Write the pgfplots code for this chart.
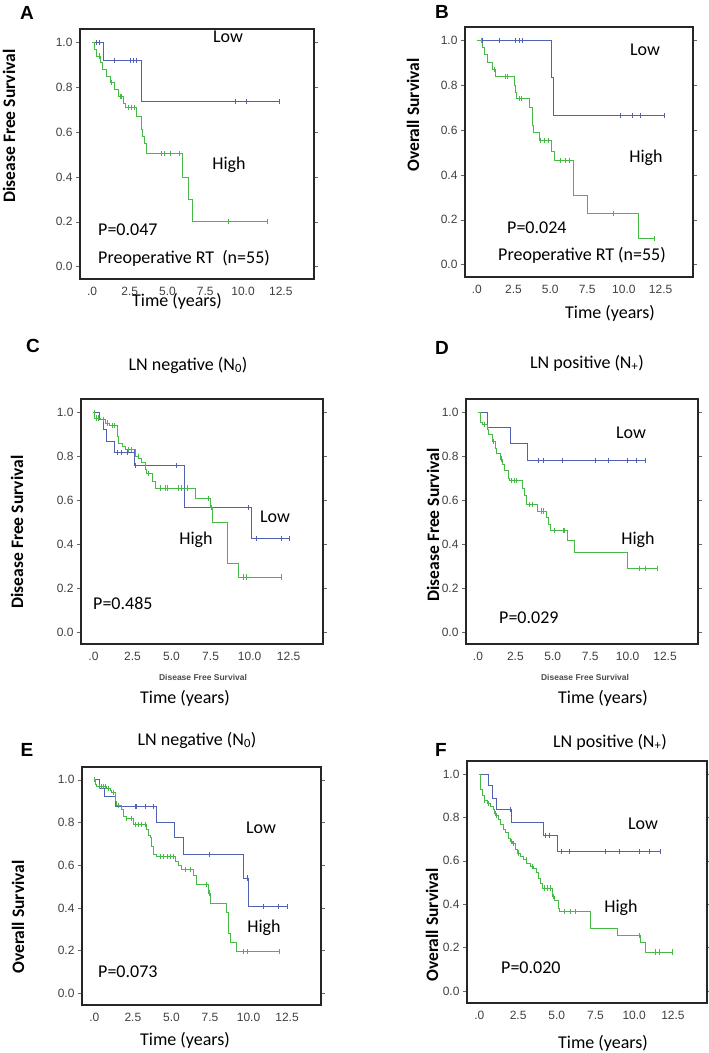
\documentclass[border=0pt]{standalone}
\usepackage{fontspec}
\setmainfont{Carlito}
\newfontfamily\arialfont{Liberation Sans}
\usepackage{pgfplots}
\pgfplotsset{compat=1.18}
\definecolor{kmblue}{RGB}{82,98,178}
\definecolor{kmgreen}{RGB}{70,186,70}
\newcommand\tickfont{\arialfont\fontsize{12bp}{14bp}\selectfont}
\newcommand\annfont{\fontsize{18bp}{21bp}\selectfont}
\newcommand\ylabfont{\bfseries\fontsize{17.5bp}{20bp}\selectfont}
\newcommand\letfont{\arialfont\bfseries\fontsize{19bp}{21bp}\selectfont}
\newcommand\smallfont{\arialfont\bfseries\fontsize{8.5bp}{10bp}\selectfont}
\pgfplotsset{km/.style={scale only axis, anchor=north west,
  xmin=-0.8, xmax=14.7, ymin=-0.055, ymax=1.06,
  axis line style={line width=1.5bp, black!85},
  xtick={0,2.5,5,7.5,10,12.5}, xticklabels={.0,2.5,5.0,7.5,10.0,12.5},
  ytick={0,0.2,0.4,0.6,0.8,1.0}, yticklabels={0.0,0.2,0.4,0.6,0.8,1.0},
  tick label style={font=\tickfont, text=black!75},
  tick align=outside, major tick length=4bp,
  xtick style={draw=none}, ytick style={black!60, line width=0.5bp},
  xticklabel style={yshift=-1bp},
  every axis plot/.append style={line width=0.8bp}},
  kmb/.style={const plot, kmblue, no marks},
  kmg/.style={const plot, kmgreen, no marks},
  cb/.style={only marks, mark=|, mark size=2.6bp, kmblue, mark options={line width=0.6bp}},
  cg/.style={only marks, mark=|, mark size=2.6bp, kmgreen, mark options={line width=0.6bp}}}
\begin{document}
\begin{tikzpicture}
\path[use as bounding box] (0,0) rectangle (709bp,-1053bp);
% ---------------- A
\begin{axis}[km, at={(80bp,-29bp)}, width=234bp, height=250bp]
\addplot[kmb] coordinates {(0,1) (0.75,0.92) (3.3,0.735) (12.4,0.735)};
\addplot[cb] coordinates {(0.3,1) (0.5,1) (1.5,0.92) (2.5,0.92) (2.75,0.92) (2.95,0.92) (9.5,0.735) (10.2,0.735) (12.4,0.735)};
\addplot[kmg] coordinates {(0,1) (0.15,0.97) (0.3,0.94) (0.55,0.91) (0.7,0.88) (0.95,0.85) (1.2,0.82) (1.5,0.79) (1.75,0.76) (2.05,0.73) (2.2,0.71) (2.95,0.67) (3.3,0.61) (3.35,0.58) (3.45,0.55) (3.6,0.505) (6.0,0.40) (6.4,0.30) (6.65,0.20) (11.6,0.20)};
\addplot[cg] coordinates {(0.5,0.94) (1.3,0.82) (1.85,0.76) (1.95,0.76) (2.4,0.71) (2.6,0.71) (2.8,0.71) (4.6,0.505) (4.8,0.505) (5.2,0.505) (5.8,0.505) (9.0,0.20) (11.6,0.20)};
\end{axis}
% ---------------- B
\begin{axis}[km, at={(465bp,-27bp)}, width=228bp, height=250bp]
\addplot[kmb] coordinates {(0,1) (5.05,0.834) (5.24,0.667) (12.75,0.667)};
\addplot[cb] coordinates {(0.35,1) (1.5,1) (2.65,1) (2.9,1) (3.1,1) (9.75,0.667) (10.55,0.667) (11.1,0.667) (12.75,0.667)};
\addplot[kmg] coordinates {(0,1) (0.4,0.97) (0.55,0.94) (0.7,0.90) (1.05,0.87) (1.3,0.84) (2.55,0.80) (2.65,0.77) (2.7,0.74) (3.6,0.70) (3.75,0.66) (3.8,0.62) (3.85,0.59) (4.25,0.555) (5.1,0.505) (5.25,0.465) (6.55,0.31) (7.55,0.23) (11.0,0.115) (12.05,0.115)};
\addplot[cg] coordinates {(0.3,1) (1.2,0.87) (1.95,0.84) (2.1,0.84) (2.9,0.74) (3.0,0.74) (4.35,0.555) (4.6,0.555) (4.85,0.555) (5.65,0.465) (6.0,0.465) (6.3,0.465) (9.3,0.23) (12.05,0.115)};
\end{axis}
% ---------------- C
\begin{axis}[km, at={(81bp,-399bp)}, width=242bp, height=245bp]
\addplot[kmb] coordinates {(0,1) (0.35,0.967) (0.65,0.92) (0.85,0.868) (1.35,0.815) (2.65,0.757) (5.8,0.565) (10.1,0.425) (12.55,0.425)};
\addplot[cb] coordinates {(1.5,0.815) (1.8,0.815) (2.15,0.815) (2.6,0.815) (2.7,0.757) (5.3,0.757) (9.9,0.565) (10.4,0.425) (12.0,0.425) (12.55,0.425)};
\addplot[kmg] coordinates {(0,1) (0.08,0.974) (0.45,0.967) (0.75,0.951) (1.05,0.939) (1.5,0.89) (1.6,0.86) (1.85,0.845) (2.05,0.83) (2.7,0.80) (2.9,0.788) (3.1,0.77) (3.3,0.74) (3.4,0.72) (3.75,0.686) (3.95,0.655) (6.5,0.607) (7.5,0.565) (7.62,0.50) (8.58,0.31) (9.26,0.25) (12.0,0.25)};
\addplot[cg] coordinates {(0.02,1.0) (0.2,0.974) (0.3,0.974) (0.6,0.967) (0.9,0.951) (1.2,0.939) (1.35,0.939) (2.2,0.83) (2.4,0.83) (2.85,0.80) (3.5,0.72) (4.3,0.655) (4.6,0.655) (4.75,0.655) (5.4,0.655) (5.6,0.655) (6.0,0.655) (7.35,0.607) (7.52,0.565) (9.6,0.25) (9.8,0.25) (12.0,0.25)};
\end{axis}
% ---------------- D
\begin{axis}[km, at={(466bp,-399bp)}, width=232bp, height=245bp]
\addplot[kmb] coordinates {(0,1) (0.6,0.933) (2.15,0.86) (3.28,0.78) (11.2,0.78)};
\addplot[cb] coordinates {(4.0,0.78) (4.35,0.78) (5.6,0.78) (7.85,0.78) (8.7,0.78) (10.0,0.78) (10.55,0.78) (11.2,0.78)};
\addplot[kmg] coordinates {(0,1) (0.15,0.955) (0.3,0.944) (0.62,0.921) (0.72,0.898) (0.94,0.868) (1.15,0.837) (1.26,0.811) (1.47,0.787) (1.64,0.761) (1.79,0.735) (2.0,0.70) (2.1,0.69) (2.95,0.655) (3.1,0.62) (3.25,0.58) (4.0,0.55) (4.55,0.52) (4.7,0.49) (4.83,0.46) (5.95,0.43) (6.0,0.415) (6.47,0.36) (10.0,0.29) (12.0,0.29)};
\addplot[cg] coordinates {(0.4,0.944) (1.05,0.868) (1.57,0.787) (2.2,0.69) (2.45,0.69) (2.55,0.69) (3.4,0.58) (3.6,0.58) (4.25,0.55) (4.35,0.55) (5.1,0.46) (5.7,0.46) (5.8,0.46) (10.8,0.29) (11.15,0.29) (12.0,0.29)};
\end{axis}
% ---------------- E
\begin{axis}[km, at={(82bp,-767bp)}, width=239bp, height=238bp]
\addplot[kmb] coordinates {(0,1) (0.3,0.96) (0.65,0.92) (1.35,0.875) (4.05,0.80) (5.17,0.73) (5.78,0.65) (9.68,0.54) (10.0,0.405) (12.5,0.405)};
\addplot[cb] coordinates {(2.65,0.875) (2.72,0.875) (3.3,0.875) (3.85,0.875) (7.47,0.65) (9.9,0.54) (10.93,0.405) (11.95,0.405) (12.5,0.405)};
\addplot[kmg] coordinates {(0,1) (0.04,0.98) (0.15,0.97) (0.8,0.96) (1.02,0.95) (1.13,0.94) (1.34,0.90) (1.45,0.88) (1.77,0.86) (1.88,0.83) (2.06,0.82) (2.53,0.79) (3.4,0.77) (3.51,0.74) (3.61,0.73) (3.72,0.69) (3.83,0.65) (4.05,0.64) (5.24,0.62) (5.45,0.60) (5.67,0.58) (6.43,0.55) (6.65,0.51) (7.4,0.47) (7.55,0.42) (8.55,0.38) (8.7,0.28) (8.81,0.24) (9.2,0.195) (12.0,0.195)};
\addplot[cg] coordinates {(0.02,1.0) (0.3,0.97) (0.45,0.97) (0.55,0.97) (0.7,0.97) (0.9,0.96) (1.2,0.94) (1.55,0.88) (2.1,0.82) (2.42,0.82) (2.64,0.79) (2.86,0.79) (3.07,0.79) (3.29,0.79) (4.26,0.64) (4.48,0.64) (4.7,0.64) (4.91,0.64) (5.13,0.64) (5.89,0.58) (6.21,0.58) (7.29,0.51) (7.47,0.47) (9.63,0.195) (9.89,0.195) (12.0,0.195)};
\end{axis}
% ---------------- F
\begin{axis}[km, at={(467bp,-761bp)}, width=240bp, height=242bp]
\addplot[kmb] coordinates {(0,1) (0.56,0.946) (0.81,0.89) (1.13,0.836) (2.09,0.775) (4.12,0.718) (5.04,0.644) (11.67,0.644)};
\addplot[cb] coordinates {(1.99,0.836) (4.23,0.718) (4.51,0.718) (5.3,0.644) (5.83,0.644) (8.14,0.644) (9.04,0.644) (10.32,0.644) (10.96,0.644) (11.67,0.644)};
\addplot[kmg] coordinates {(0,1) (0.06,0.93) (0.17,0.90) (0.32,0.88) (0.49,0.865) (0.71,0.85) (0.88,0.835) (0.98,0.82) (1.13,0.81) (1.24,0.79) (1.35,0.767) (1.52,0.744) (1.67,0.73) (1.88,0.705) (1.99,0.69) (2.16,0.68) (2.31,0.652) (2.46,0.636) (2.63,0.62) (2.84,0.606) (3.06,0.587) (3.27,0.575) (3.48,0.563) (3.7,0.545) (3.8,0.52) (3.91,0.498) (4.08,0.475) (4.72,0.437) (4.87,0.42) (5.09,0.383) (5.19,0.368) (7.18,0.29) (8.93,0.256) (10.43,0.225) (10.71,0.18) (12.46,0.18)};
\addplot[cg] coordinates {(0.3,0.88) (0.6,0.865) (1.0,0.82) (1.1,0.81) (2.05,0.69) (2.2,0.68) (2.5,0.636) (3.0,0.606) (3.4,0.575) (4.2,0.475) (4.4,0.475) (4.55,0.475) (4.8,0.437) (5.5,0.368) (5.9,0.368) (6.2,0.368) (10.3,0.256) (11.35,0.18) (11.6,0.18) (12.46,0.18)};
\end{axis}
% ---------------- texts
\begin{scope}[every node/.style={inner sep=0pt}]
\node[font=\letfont] at (27bp,-13bp) {A};
\node[font=\letfont] at (442bp,-12bp) {B};
\node[font=\letfont] at (33bp,-346bp) {C};
\node[font=\letfont] at (442bp,-348bp) {D};
\node[font=\letfont] at (27bp,-750bp) {E};
\node[font=\letfont] at (441bp,-750bp) {F};
\node[font=\annfont] at (188bp,-365bp) {LN negative (N\textsubscript{0})};
\node[font=\annfont] at (587bp,-363bp) {LN positive (N\textsubscript{+})};
\node[font=\annfont] at (197bp,-740bp) {LN negative (N\textsubscript{0})};
\node[font=\annfont] at (610bp,-742bp) {LN positive (N\textsubscript{+})};
\node[font=\ylabfont, rotate=90] at (9bp,-126bp) {Disease Free Survival};
\node[font=\ylabfont, rotate=90] at (413bp,-115bp) {Overall Survival};
\node[font=\ylabfont, rotate=90] at (17bp,-532bp) {Disease Free Survival};
\node[font=\ylabfont, rotate=90] at (433bp,-525bp) {Disease Free Survival};
\node[font=\ylabfont, rotate=90] at (18bp,-917bp) {Overall Survival};
\node[font=\ylabfont, rotate=90] at (432bp,-925bp) {Overall Survival};
\node[font=\annfont] at (177bp,-301bp) {Time (years)};
\node[font=\annfont] at (610bp,-313bp) {Time (years)};
\node[font=\annfont] at (185bp,-698bp) {Time (years)};
\node[font=\annfont] at (603bp,-698bp) {Time (years)};
\node[font=\annfont] at (185bp,-1040bp) {Time (years)};
\node[font=\annfont] at (603bp,-1043bp) {Time (years)};
\node[font=\smallfont, text=black!70] at (203bp,-677bp) {Disease Free Survival};
\node[font=\smallfont, text=black!70] at (585bp,-677bp) {Disease Free Survival};
% A
\node[font=\annfont] at (228bp,-37bp) {Low};
\node[font=\annfont] at (229bp,-165bp) {High};
\node[font=\annfont, anchor=west] at (98bp,-230bp) {P=0.047};
\node[font=\annfont, anchor=west] at (98bp,-258bp) {Preoperative RT\ \ (n=55)};
% B
\node[font=\annfont] at (645bp,-50bp) {Low};
\node[font=\annfont] at (646bp,-158bp) {High};
\node[font=\annfont, anchor=west] at (507bp,-228bp) {P=0.024};
\node[font=\annfont, anchor=west] at (498bp,-255bp) {Preoperative RT (n=55)};
% C
\node[font=\annfont] at (275bp,-517bp) {Low};
\node[font=\annfont] at (196bp,-540bp) {High};
\node[font=\annfont, anchor=west] at (93bp,-603bp) {P=0.485};
% D
\node[font=\annfont] at (631bp,-433bp) {Low};
\node[font=\annfont] at (638bp,-540bp) {High};
\node[font=\annfont, anchor=west] at (499bp,-618bp) {P=0.029};
% E
\node[font=\annfont] at (261bp,-828bp) {Low};
\node[font=\annfont] at (264bp,-928bp) {High};
\node[font=\annfont, anchor=west] at (98bp,-972bp) {P=0.073};
% F
\node[font=\annfont] at (643bp,-824bp) {Low};
\node[font=\annfont] at (621bp,-908bp) {High};
\node[font=\annfont, anchor=west] at (501bp,-968bp) {P=0.020};
\end{scope}
\end{tikzpicture}
\end{document}
